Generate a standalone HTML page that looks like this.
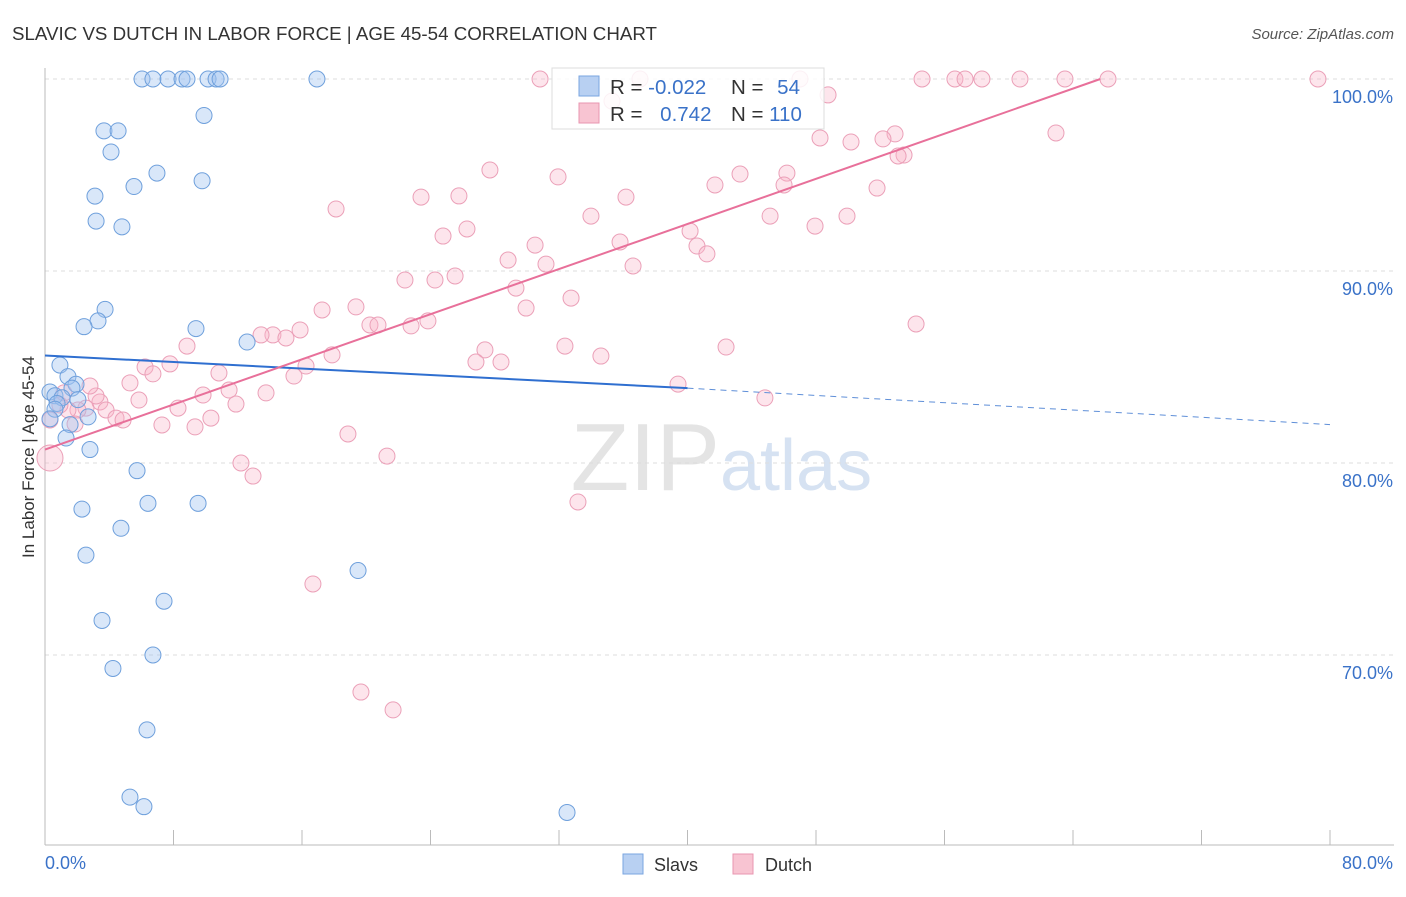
<!DOCTYPE html>
<html><head><meta charset="utf-8"><style>
body{margin:0;background:#fff;font-family:"Liberation Sans",sans-serif}
svg text{font-family:"Liberation Sans",sans-serif}
</style></head><body>
<svg id="c" width="1406" height="892">
<text x="12" y="40" font-size="18" fill="#333" textLength="645" lengthAdjust="spacingAndGlyphs">SLAVIC VS DUTCH IN LABOR FORCE | AGE 45-54 CORRELATION CHART</text>
<text x="1394" y="39" font-size="15" fill="#555" font-style="italic" text-anchor="end">Source: ZipAtlas.com</text>
<text x="720" y="490" font-size="96" fill="#e4e4e4" text-anchor="end" font-family="Liberation Serif">ZIP</text>
<text x="720" y="490" font-size="72" fill="#d6e2f2">atlas</text>
<text transform="translate(34,457) rotate(-90)" font-size="17" fill="#333" text-anchor="middle">In Labor Force | Age 45-54</text>
<g id="grid"></g><g id="marks"></g>
<g>
<rect x="552" y="68" width="272" height="61" fill="#fff" fill-opacity="0.85" stroke="#ddd"/>
<rect x="579" y="76" width="20" height="20" fill="#b8d0f2" stroke="#7aa6e0"/>
<rect x="579" y="103" width="20" height="20" fill="#f8c4d2" stroke="#e896b0"/>
<text x="610" y="94" font-size="20.5" fill="#333">R = <tspan fill="#3a72c8">-0.022</tspan></text>
<text x="731" y="94" font-size="20.5" fill="#333">N = <tspan fill="#3a72c8" dx="8">54</tspan></text>
<text x="610" y="121" font-size="20.5" fill="#333">R = <tspan fill="#3a72c8" dx="12">0.742</tspan></text>
<text x="731" y="121" font-size="20.5" fill="#333">N = <tspan fill="#3a72c8">110</tspan></text>
</g>
<g>
<rect x="623" y="854" width="20" height="20" fill="#b8d0f2" stroke="#7aa6e0"/>
<text x="654" y="871" font-size="18" fill="#333">Slavs</text>
<rect x="733" y="854" width="20" height="20" fill="#f8c4d2" stroke="#e896b0"/>
<text x="765" y="871" font-size="18" fill="#333">Dutch</text>
</g>
</svg>
<script>
const yTicks=[100,90,80,70];
const xTickLabels=["0.0%","80.0%"];
const slavsX=[6.04,6.72,7.66,8.53,8.84,10.15,10.65,10.9,16.93,9.9,3.67,4.55,4.11,6.97,5.54,9.78,3.11,3.18,4.79,3.74,3.3,2.43,9.4,12.58,0.93,1.43,1.93,1.68,0.31,0.62,1.06,2.05,0.75,0.62,2.68,1.56,1.31,2.8,5.73,2.3,6.41,9.53,4.73,2.55,19.49,7.41,3.55,6.72,4.23,6.35,5.29,6.16,32.5,0.31];
const slavsY=[100,100,100,100,100,100,100,100,100,98.1,97.3,97.3,96.2,95.1,94.4,94.7,93.9,92.6,92.3,88,87.4,87.1,87,86.3,85.1,84.5,84.1,83.9,83.7,83.5,83.4,83.3,83.1,82.8,82.4,82,81.3,80.7,79.6,77.6,77.9,77.9,76.6,75.2,74.4,72.8,71.8,70,69.3,66.1,62.6,62.1,61.8,82.3];
const dutchX=[30.82,35.30,37.04,47.00,48.75,54.60,56.65,57.28,58.33,60.70,63.50,66.18,79.25,62.94,52.92,52.17,53.48,53.11,50.18,48.25,46.19,46.01,43.27,41.71,45.14,47.94,49.93,51.80,40.16,40.59,41.21,35.80,36.61,36.17,33.99,31.94,30.51,31.19,27.70,25.77,23.41,24.78,26.27,28.83,29.32,29.95,32.75,25.53,24.28,22.41,18.12,17.25,19.36,15.88,14.19,15.00,13.45,20.23,20.73,22.79,23.84,17.87,16.25,15.50,27.39,26.83,28.39,32.37,34.61,42.40,54.23,8.84,7.78,6.23,6.72,5.29,10.83,11.46,13.76,9.84,8.28,11.89,10.33,7.28,9.34,5.85,3.42,3.80,4.42,4.86,2.55,2.05,1.43,0.93,0.31,0.31,18.86,21.29,12.20,12.95,33.18,16.68,19.67,21.67,44.82,39.41,3.18,1.18,2.80,1.87];
const dutchY=[100,98.85,100,100,99.17,100,100,100,100,100,100,100,100,97.19,97.14,96.88,96.04,95.99,96.72,96.93,95.10,94.48,95.05,94.48,92.86,92.34,92.86,94.32,92.08,91.30,90.89,91.51,90.26,93.85,92.86,94.90,91.35,90.36,95.26,93.91,93.85,91.82,92.19,90.57,89.11,88.07,88.59,89.74,89.53,89.53,93.23,87.97,88.13,86.93,86.67,86.51,86.67,87.19,87.19,87.14,87.40,85.63,85.05,84.53,85.89,85.26,85.26,86.09,85.57,86.04,87.24,86.09,85.16,85.0,84.64,84.17,84.69,83.80,83.65,83.54,82.86,83.07,82.34,81.98,81.88,83.28,83.18,82.76,82.34,82.24,82.86,82.76,82.76,83.02,80.26,82.24,81.51,80.36,80.0,79.32,77.97,73.70,68.07,67.14,83.39,84.11,83.49,83.65,84.01,82.03];
const BIG=94;
const X0=45,X1=1330,Y100=79,PX=19.2;
const xs=v=>X0+v*(X1-X0)/80, ys=v=>Y100+(100-v)*PX;
const NS="http://www.w3.org/2000/svg";
function mk(t,a,p){const e=document.createElementNS(NS,t);for(const k in a)e.setAttribute(k,a[k]);p.appendChild(e);return e;}
const g=document.getElementById('grid');
for(const t of yTicks){
 const l=mk('line',{x1:X0,x2:1394,y1:ys(t),y2:ys(t),stroke:'#ddd','stroke-dasharray':'4 4'},g);
 
 
 const tx=mk('text',{x:1393,y:ys(t)+24,'font-size':18,fill:'#3a72c8','text-anchor':'end'},g);
 tx.textContent=t.toFixed(1)+'%';
 
 
}
mk('line',{x1:X0,x2:X0,y1:68,y2:845,stroke:'#bbb'},g);
mk('line',{x1:X0,x2:1394,y1:845,y2:845,stroke:'#bbb'},g);
for(let i=0;i<=10;i++){const x=xs(i*8);mk('line',{x1:x,x2:x,y1:830,y2:845,stroke:'#bbb'},g);}
const xl0=mk('text',{x:45,y:869,'font-size':18,fill:'#3a72c8'},g);xl0.textContent=xTickLabels[0];


const xl1=mk('text',{x:1393,y:869,'font-size':18,fill:'#3a72c8','text-anchor':'end'},g);xl1.textContent=xTickLabels[1];


const m=document.getElementById('marks');
dutchX.forEach((x,i)=>{const c=mk('circle',{cx:xs(x),cy:ys(dutchY[i]),r:(i==BIG?13:8),fill:'rgba(248,180,200,0.35)',stroke:'#eba0b8','stroke-width':1},m);
 
 });
slavsX.forEach((x,i)=>{const c=mk('circle',{cx:xs(x),cy:ys(slavsY[i]),r:8,fill:'rgba(160,196,240,0.4)',stroke:'#6fa0dc','stroke-width':1},m);
 
 });
const bt=mk('line',{x1:xs(0),y1:ys(85.6),x2:xs(40),y2:ys(83.9),stroke:'#2f6fd0','stroke-width':2},m);


const bd=mk('line',{x1:xs(40),y1:ys(83.9),x2:xs(80),y2:ys(82),stroke:'#5f8fd8','stroke-width':1,'stroke-dasharray':'6 5'},m);


const pt=mk('line',{x1:xs(0),y1:ys(80.7),x2:xs(65.7),y2:ys(100),stroke:'#e8709a','stroke-width':2},m);


</script>
</body></html>
